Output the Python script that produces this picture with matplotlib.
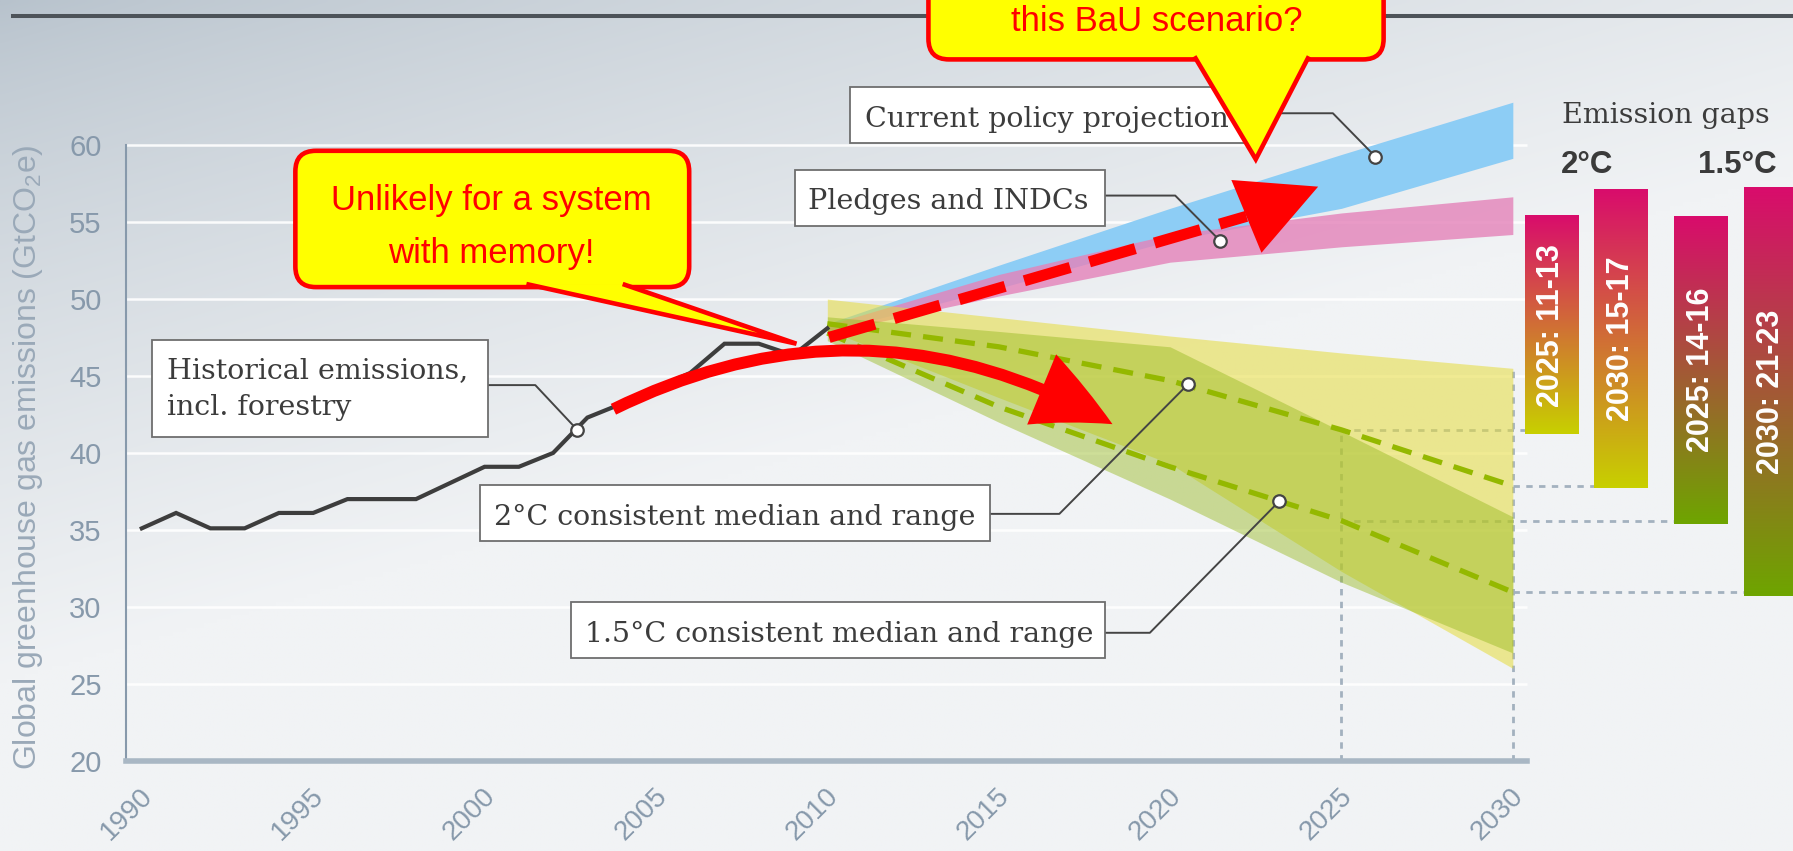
import numpy as np
import matplotlib
matplotlib.use('Agg')
import matplotlib.pyplot as plt
from matplotlib import font_manager as fm
from matplotlib import transforms
from matplotlib.patches import FancyArrowPatch, FancyBboxPatch, Polygon, Rectangle, ArrowStyle
from matplotlib.lines import Line2D

plt.rcParams['font.family'] = ['Liberation Sans', 'DejaVu Sans']
plt.rcParams['mathtext.fontset'] = 'custom'
plt.rcParams['mathtext.rm'] = 'Liberation Sans'

#%% data
hist_years = list(range(1990, 2011))
hist_vals = [35.1, 36.1, 35.1, 35.1, 36.1, 36.1, 37.0, 37.0, 37.0, 38.05, 39.1,
             39.1, 40.0, 42.3, 43.2, 44.2, 45.2, 47.1, 47.1, 46.35, 48.1]

proj_years = [2010, 2015, 2020, 2025, 2030]
current_hi = [48.4, 52.2, 55.9, 59.4, 62.8]
current_lo = [47.9, 50.7, 53.8, 55.9, 59.15]
pledge_hi = [48.3, 51.6, 54.2, 55.6, 56.65]
pledge_lo = [47.8, 50.2, 52.4, 53.4, 54.2]
range2_hi = [50.0, 48.8, 47.6, 46.5, 45.5]
range2_lo = [48.0, 43.6, 39.3, 32.3, 26.0]
range15_hi = [48.85, 47.9, 46.9, 41.4, 35.85]
range15_lo = [47.3, 42.0, 37.0, 31.6, 27.0]
median2 = [48.4, 46.9, 44.7, 41.5, 37.85]
median15 = [47.8, 43.0, 39.1, 35.6, 30.95]

gap_labels = ['2025: 11-13', '2030: 15-17', '2025: 14-16', '2030: 21-23']
gap_top = [55.4, 57.1, 55.4, 57.25]
gap_bottom = [41.2, 37.7, 35.4, 30.7]
gap_left = [2030.35, 2032.38, 2034.71, 2036.75]
gap_bottom_colors = ['#c8d000', '#c8d000', '#6ea500', '#6ea500']
gap_width = 1.55

# label texts and the circles they point to
label_lines = [['Current policy projection'], ['Pledges and INDCs'],
               ['Historical emissions,', 'incl. forestry'],
               ['2°C consistent median and range'], ['1.5°C consistent median and range']]
marker_x = [2025.99, 2021.46, 2002.71, 2020.52, 2023.18]
marker_y = [59.26, 53.79, 41.49, 44.46, 36.85]

#%% figure
fig = plt.figure(figsize=(17.93, 8.51), dpi=100)

# background gradient
bg = fig.add_axes([0, 0, 1, 1], zorder=0)
gx, gy = np.meshgrid(np.linspace(0, 1, 400), np.linspace(0, 1, 200))
t = np.clip(0.75 * gx + 1.25 * gy, 0, 1) ** 0.75
dark = np.array([183, 194, 204]) / 255
light = np.array([241, 243, 245]) / 255
bg.imshow(dark + (light - dark) * t[..., None], aspect='auto', extent=[0, 1, 0, 1],
          origin='upper', interpolation='bilinear')
bg.set_axis_off()
bg.add_line(Line2D([0.007, 1.0], [0.981, 0.981], transform=bg.transAxes,
                   color='#4d5359', lw=2.9))

ax = fig.add_axes([0, 0, 1, 1], zorder=1)
ax.patch.set_visible(False)

x_spine = 1989.54
x_end = 2030.42
tick_col = '#8799ab'

ax.hlines(range(25, 61, 5), x_spine, x_end, colors='white', lw=1.8, alpha=0.9, zorder=1)

# dotted guide lines to the gap bars
dot = dict(color='#a3b1bf', lw=2.0, ls=(0, (2.3, 2.3)), zorder=2)
ax.plot([2025, 2025], [20, median2[3]], **dot)
ax.plot([2030, 2030], [20, range2_hi[4]], **dot)
ax.plot([2025, gap_left[0]], [median2[3], median2[3]], **dot)
ax.plot([2030, gap_left[1]], [median2[4], median2[4]], **dot)
ax.plot([2025, gap_left[2]], [median15[3], median15[3]], **dot)
ax.plot([2030, gap_left[3]], [median15[4], median15[4]], **dot)

# projection bands
ax.fill_between(proj_years, current_lo, current_hi, color='#8dcdf5', lw=0, zorder=3)
ax.fill_between(proj_years, pledge_lo, pledge_hi, color='#e482b9', alpha=0.8, lw=0, zorder=3)
ax.fill_between(proj_years, range2_lo, range2_hi, color='#e6dc3c', alpha=0.55, lw=0, zorder=3)
ax.fill_between(proj_years, range15_lo, range15_hi, color='#96b91e', alpha=0.45, lw=0, zorder=3)

med = dict(color='#94b800', lw=3.8, dashes=(3.8, 2.3), zorder=4)
ax.plot(proj_years, median2, **med)
ax.plot(proj_years, median15, **med)

ax.plot(hist_years, hist_vals, color='#3d3d3d', lw=3, zorder=5, solid_joinstyle='miter')

# emission gap bars
c_top = np.array(matplotlib.colors.to_rgb('#d90c6c'))
for x0, top, bot, c_bot, lab in zip(gap_left, gap_top, gap_bottom, gap_bottom_colors, gap_labels):
    c_b = np.array(matplotlib.colors.to_rgb(c_bot))
    s = np.linspace(0, 1, 256)[:, None, None]
    grad = c_top + (c_b - c_top) * s
    ax.imshow(grad, extent=[x0, x0 + gap_width, bot, top], aspect='auto',
              origin='upper', interpolation='bilinear', zorder=3)
    ax.text(x0 + gap_width / 2, (top + bot) / 2, lab, rotation=90, ha='center', va='center',
            color='white', fontsize=22, fontweight='bold', zorder=4)

serif = dict(family='DejaVu Serif', fontsize=20.5, color='#3c3c3c')
ax.text(2034.46, 61.44, 'Emission gaps', ha='center', va='baseline', zorder=4, **serif)
ax.text(2032.18, 58.19, '2°C', ha='center', va='baseline', fontsize=22.5,
        fontweight='bold', color='#3a3a3a')
ax.text(2036.56, 58.19, '1.5°C', ha='center', va='baseline', fontsize=22.5,
        fontweight='bold', color='#3a3a3a')

# label boxes: (x0, x1, y0, y1), text x, baselines, leader bend points
box_geom = [
    (2010.67, 2022.19, 60.14, 63.79, 2011.11, [61.2], [(2022.19, 62.08), (2024.75, 62.08)]),
    (2009.06, 2018.09, 54.74, 58.39, 2009.45, [55.85], [(2018.09, 56.73), (2020.15, 56.73)]),
    (1990.29, 2000.11, 41.05, 47.34, 1990.73, [44.84, 42.46], [(2000.11, 44.41), (2001.48, 44.41)]),
    (1999.87, 2014.75, 34.25, 37.92, 2000.28, [35.3], [(2014.75, 36.04), (2016.77, 36.04)]),
    (2002.52, 2018.09, 26.67, 30.28, 2002.93, [27.7], [(2018.09, 28.31), (2019.41, 28.31)]),
]
for (bx0, bx1, by0, by1, tx, bases, leader), lines, mx, my in zip(box_geom, label_lines,
                                                                  marker_x, marker_y):
    ax.add_patch(Rectangle((bx0, by0), bx1 - bx0, by1 - by0, fc='white', ec='#6e6e6e',
                           lw=1.3, zorder=6))
    for yb, txt in zip(bases, lines):
        ax.text(tx, yb, txt, ha='left', va='baseline', zorder=7, **serif)
    ax.plot([p[0] for p in leader] + [mx], [p[1] for p in leader] + [my],
            color='#444444', lw=1.4, zorder=5)

ax.plot(marker_x, marker_y, 'o', ls='none', ms=9, mfc='white', mec='#444444', mew=1.6, zorder=7)

# red arrows
red = '#ff0000'
ax.add_patch(FancyArrowPatch((2003.76, 42.84), (2018.32, 41.87),
                             connectionstyle='arc3,rad=-0.265',
                             arrowstyle=ArrowStyle('simple', head_length=56.8, head_width=54.7,
                                                   tail_width=8.6),
                             mutation_scale=1, shrinkA=0, shrinkB=0, fc=red, ec='none', zorder=9))
dash_start = (2010.05, 47.51)
head_base = (2022.23, 55.38)
head_tip = (2024.32, 57.31)
ax.plot([dash_start[0], head_base[0]], [dash_start[1], head_base[1]], color=red, lw=8,
        dashes=(4.3, 1.8), dash_capstyle='butt', zorder=9)
back = (head_tip[0] - 1.4 * (head_tip[0] - head_base[0]),
        head_tip[1] - 1.4 * (head_tip[1] - head_base[1]))
ax.add_patch(FancyArrowPatch(back, head_tip,
                             arrowstyle=ArrowStyle('simple', head_length=55.9, head_width=56.7,
                                                   tail_width=0.01),
                             mutation_scale=1, shrinkA=0, shrinkB=0, fc=red, ec='none', zorder=9))

# callouts
names = {f.name for f in fm.fontManager.ttflist}
if 'Liberation Sans Narrow' in names:
    call_font = dict(family='Liberation Sans Narrow', fontsize=30, color=red)
else:
    call_font = dict(family='Liberation Sans', fontsize=25, color=red)
aspect = 2.229
ax.add_patch(FancyBboxPatch((1994.48, 50.78), 11.49, 8.86,
                            boxstyle='round,pad=0,rounding_size=0.6', mutation_aspect=aspect,
                            fc='#ffff00', ec=red, lw=3.3, zorder=10))
ax.add_patch(Polygon([(2001.22, 50.98), (2009.1, 47.1), (2004.03, 50.98)], closed=False,
                     fc='#ffff00', ec=red, lw=3.3, joinstyle='miter', zorder=11))
ax.text(2000.21, 55.81, 'Unlikely for a system', ha='center', va='baseline', zorder=12, **call_font)
ax.text(2000.21, 52.37, 'with memory!', ha='center', va='baseline', zorder=12, **call_font)

ax.add_patch(FancyBboxPatch((2012.95, 65.58), 13.28, 10,
                            boxstyle='round,pad=0,rounding_size=0.6', mutation_aspect=aspect,
                            fc='#ffff00', ec=red, lw=3.3, zorder=10))
ax.add_patch(Polygon([(2020.71, 65.78), (2022.5, 59.09), (2024.05, 65.78)], closed=False,
                     fc='#ffff00', ec=red, lw=3.3, joinstyle='miter', zorder=11))
ax.text(2019.6, 67.45, 'this BaU scenario?', ha='center', va='baseline', zorder=12, **call_font)

# axes styling
for side in ['top', 'right']:
    ax.spines[side].set_visible(False)
ax.spines['left'].set_position(('data', x_spine))
ax.spines['left'].set_bounds(20, 60)
ax.spines['left'].set_color(tick_col)
ax.spines['left'].set_linewidth(1.5)
ax.spines['bottom'].set_position(('data', 20))
ax.spines['bottom'].set_bounds(x_spine, x_end)
ax.spines['bottom'].set_color('#a9b7c4')
ax.spines['bottom'].set_linewidth(4)

ax.set_yticks(range(20, 61, 5))
ax.tick_params(axis='y', length=0, pad=17.5, labelsize=21, labelcolor=tick_col)
ax.set_xticks(range(1990, 2031, 5))
ax.set_xticklabels([str(y) for y in range(1990, 2031, 5)], rotation=45, ha='right',
                   va='center', rotation_mode='anchor')
ax.tick_params(axis='x', length=0, pad=23, labelsize=20, labelcolor=tick_col)
shift = transforms.ScaledTranslation(7 / 100, 0, fig.dpi_scale_trans)
for lab in ax.get_xticklabels():
    lab.set_transform(lab.get_transform() + shift)

ax.text(1986.69, 39.75, r'Global greenhouse gas emissions (GtCO$_2$e)', rotation=90,
        ha='center', va='center', fontsize=23, color='#9aa9b8')

ax.set_xlim(1985.863, 2038.174)
ax.set_ylim(14.126, 69.442)

fig.savefig('out.png', dpi=100)
